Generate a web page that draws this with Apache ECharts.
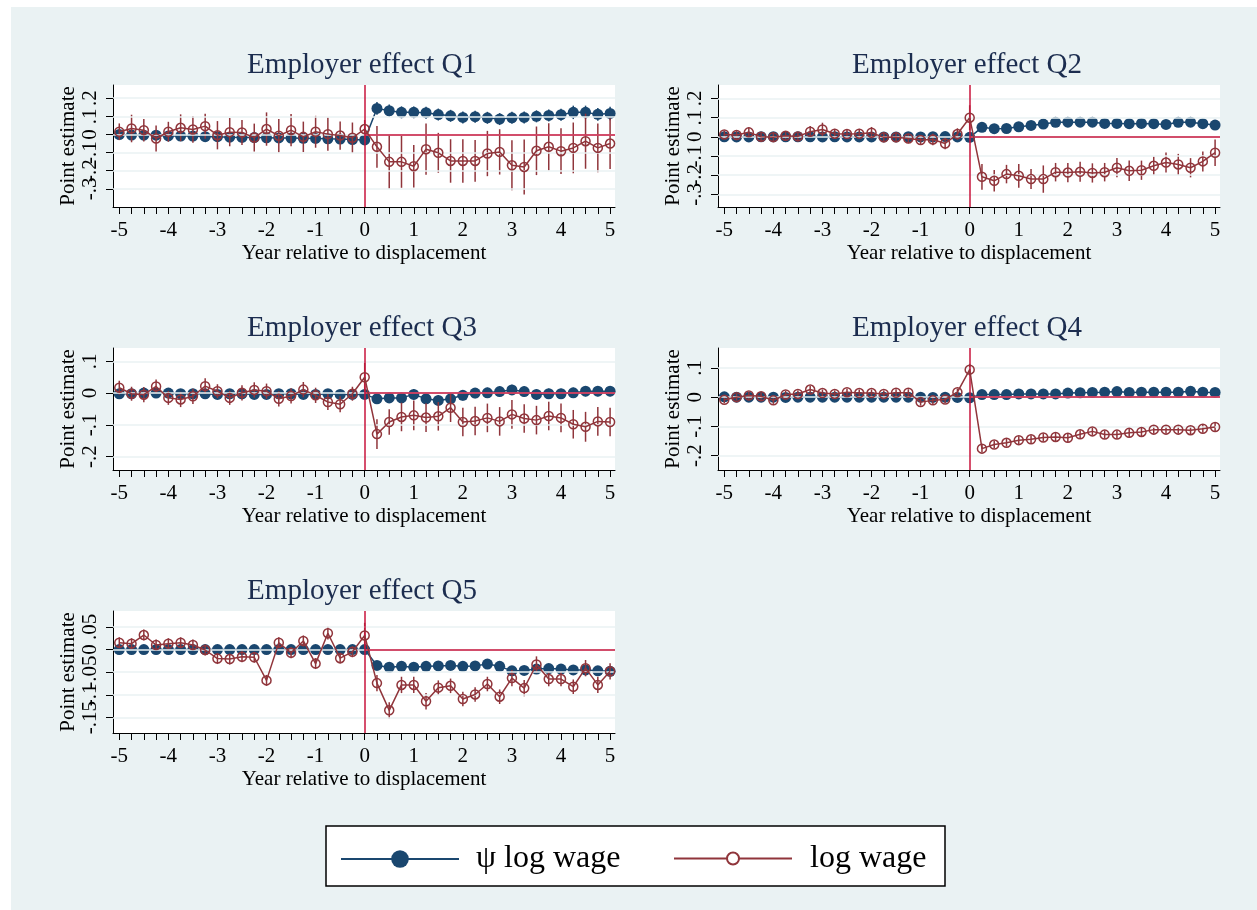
<!DOCTYPE html>
<html>
<head>
<meta charset="utf-8">
<script src="https://cdn.jsdelivr.net/npm/echarts@6/dist/echarts.min.js"></script>
<style>
html,body{margin:0;padding:0;background:#fff}
#chart{width:1257px;height:910px}
</style>
</head>
<body>
<div id="chart"></div>
<script>
// event time, quarters relative to displacement
var years = [-5,-4.75,-4.5,-4.25,-4,-3.75,-3.5,-3.25,-3,-2.75,-2.5,-2.25,-2,-1.75,-1.5,-1.25,-1,-0.75,-0.5,-0.25,0,
             0.25,0.5,0.75,1,1.25,1.5,1.75,2,2.25,2.5,2.75,3,3.25,3.5,3.75,4,4.25,4.5,4.75,5];
var yearLabels = [-5,-4,-3,-2,-1,0,1,2,3,4,5];

var psiQ1 = [0,-0.003,-0.004,-0.004,-0.008,-0.009,-0.009,-0.012,-0.012,-0.015,-0.016,-0.017,-0.018,-0.019,-0.02,-0.021,-0.022,-0.024,-0.025,-0.028,-0.03,
             0.144,0.131,0.122,0.122,0.12,0.11,0.103,0.094,0.098,0.092,0.085,0.092,0.094,0.1,0.105,0.109,0.122,0.122,0.111,0.116];
var psiCiQ1 = [0.02,0.02,0.02,0.02,0.02,0.02,0.02,0.02,0.02,0.02,0.02,0.02,0.02,0.02,0.02,0.02,0.02,0.02,0.02,0.02,0.02,
               0.035,0.035,0.033,0.033,0.033,0.033,0.033,0.033,0.033,0.033,0.033,0.033,0.033,0.033,0.033,0.033,0.037,0.037,0.035,0.037];
var wageQ1 = [0.015,0.033,0.024,-0.022,0.015,0.037,0.028,0.046,-0.004,0.013,0.011,-0.017,0.03,-0.007,0.024,-0.013,0.015,0.002,-0.006,-0.018,0.03,
              -0.068,-0.151,-0.151,-0.175,-0.081,-0.101,-0.146,-0.146,-0.146,-0.105,-0.096,-0.17,-0.179,-0.09,-0.068,-0.092,-0.074,-0.037,-0.074,-0.05];
var wageCiQ1 = [0.046,0.076,0.062,0.072,0.055,0.074,0.074,0.069,0.078,0.078,0.069,0.077,0.092,0.092,0.089,0.084,0.088,0.092,0.078,0.084,0.05,
                0.115,0.148,0.143,0.117,0.141,0.11,0.12,0.12,0.115,0.125,0.125,0.138,0.152,0.134,0.13,0.126,0.14,0.152,0.134,0.14];

var psiQ2 = [0,-0.001,-0.001,0,0,0,0,0,-0.001,0,-0.001,-0.001,-0.001,-0.001,-0.001,0,-0.001,0,0.001,-0.001,-0.003,
             0.049,0.042,0.043,0.052,0.059,0.066,0.075,0.076,0.076,0.076,0.069,0.069,0.068,0.069,0.068,0.064,0.075,0.076,0.068,0.061];
var psiCiQ2 = [0.008,0.008,0.008,0.008,0.008,0.008,0.008,0.008,0.008,0.008,0.008,0.008,0.008,0.008,0.008,0.008,0.008,0.008,0.008,0.008,0.008,
               0.01,0.01,0.01,0.01,0.01,0.01,0.01,0.01,0.01,0.01,0.01,0.01,0.01,0.01,0.01,0.01,0.01,0.01,0.01,0.01];
var wageQ2 = [0.012,0.009,0.023,0,-0.002,0.005,0.002,0.026,0.038,0.016,0.014,0.016,0.021,-0.003,-0.003,-0.009,-0.017,-0.014,-0.035,0.014,0.099,
              -0.208,-0.229,-0.194,-0.203,-0.22,-0.22,-0.184,-0.186,-0.182,-0.188,-0.184,-0.161,-0.177,-0.174,-0.151,-0.134,-0.144,-0.161,-0.128,-0.083];
var wageCiQ2 = [0.02,0.02,0.025,0.025,0.025,0.02,0.02,0.03,0.035,0.025,0.025,0.025,0.03,0.025,0.025,0.025,0.025,0.03,0.03,0.03,0.065,
                0.067,0.056,0.048,0.062,0.052,0.071,0.048,0.05,0.052,0.05,0.048,0.05,0.053,0.05,0.048,0.052,0.055,0.05,0.052,0.069];

var psiQ3 = [-0.002,-0.002,0,0,0,-0.002,-0.002,-0.002,-0.004,-0.002,-0.002,-0.004,-0.004,-0.002,-0.002,-0.004,-0.004,-0.002,-0.004,-0.004,-0.004,
             -0.018,-0.015,-0.015,-0.004,-0.018,-0.023,-0.018,-0.007,0,0.001,0.005,0.01,0.005,-0.004,-0.002,-0.002,0.001,0.006,0.006,0.006];
var psiCiQ3 = [0.012,0.012,0.012,0.012,0.012,0.012,0.012,0.012,0.012,0.012,0.012,0.012,0.012,0.012,0.012,0.012,0.012,0.012,0.012,0.012,0.012,
               0.016,0.016,0.016,0.016,0.016,0.016,0.016,0.016,0.016,0.016,0.016,0.016,0.016,0.016,0.016,0.016,0.016,0.016,0.016,0.016];
var wageQ3 = [0.017,-0.002,-0.005,0.021,-0.015,-0.02,-0.01,0.022,0.006,-0.015,0.001,0.01,0.006,-0.018,-0.009,0.011,-0.007,-0.028,-0.035,-0.002,0.05,
              -0.129,-0.091,-0.075,-0.07,-0.077,-0.073,-0.046,-0.091,-0.088,-0.078,-0.089,-0.067,-0.08,-0.085,-0.072,-0.078,-0.098,-0.106,-0.089,-0.091];
var wageCiQ3 = [0.022,0.022,0.024,0.022,0.022,0.024,0.024,0.025,0.022,0.022,0.024,0.024,0.024,0.024,0.024,0.024,0.024,0.025,0.025,0.022,0.045,
                0.047,0.04,0.045,0.047,0.045,0.045,0.045,0.045,0.045,0.045,0.045,0.045,0.045,0.045,0.045,0.045,0.045,0.047,0.045,0.045];

var psiQ4 = [0.001,0,0,0,0,-0.001,0,0,0,0,0,0,0,0,0,0,0,-0.001,0,-0.001,-0.002,
             0.009,0.009,0.009,0.011,0.011,0.011,0.011,0.014,0.015,0.016,0.017,0.019,0.016,0.017,0.017,0.017,0.017,0.02,0.017,0.016];
var psiCiQ4 = [0.004,0.004,0.004,0.004,0.004,0.004,0.004,0.004,0.004,0.004,0.004,0.004,0.004,0.004,0.004,0.004,0.004,0.004,0.004,0.004,0.004,
               0.005,0.005,0.005,0.005,0.005,0.005,0.005,0.005,0.005,0.005,0.005,0.005,0.005,0.005,0.005,0.005,0.005,0.005,0.005,0.005];
var wageQ4 = [-0.009,0,0.006,0.003,-0.011,0.009,0.011,0.026,0.014,0.011,0.017,0.014,0.014,0.011,0.015,0.015,-0.017,-0.011,-0.008,0.017,0.094,
              -0.176,-0.162,-0.156,-0.147,-0.144,-0.138,-0.136,-0.139,-0.127,-0.117,-0.128,-0.128,-0.122,-0.119,-0.111,-0.111,-0.111,-0.113,-0.108,-0.102];
var wageCiQ4 = [0.012,0.012,0.012,0.012,0.012,0.012,0.012,0.012,0.012,0.012,0.012,0.012,0.012,0.012,0.012,0.012,0.012,0.012,0.012,0.012,0.02,
                0.013,0.013,0.013,0.013,0.014,0.014,0.014,0.014,0.014,0.014,0.014,0.014,0.014,0.014,0.014,0.014,0.014,0.014,0.014,0.015];

var psiQ5 = [0,0,0,0,0,0,0,0,0,0,0,0,0,0,0,0,0,0,0,0,0,
             -0.035,-0.039,-0.037,-0.039,-0.037,-0.036,-0.035,-0.037,-0.036,-0.032,-0.037,-0.047,-0.046,-0.043,-0.042,-0.043,-0.045,-0.045,-0.047,-0.048];
var psiCiQ5 = [0.003,0.003,0.003,0.003,0.003,0.003,0.003,0.003,0.003,0.003,0.003,0.003,0.003,0.003,0.003,0.003,0.003,0.003,0.003,0.003,0.003,
               0.004,0.004,0.004,0.004,0.004,0.004,0.004,0.004,0.004,0.004,0.004,0.004,0.004,0.004,0.004,0.004,0.004,0.004,0.004,0.004];
var wageQ5 = [0.015,0.013,0.032,0.01,0.013,0.015,0.01,-0.001,-0.02,-0.021,-0.016,-0.017,-0.068,0.015,-0.007,0.019,-0.031,0.036,-0.019,-0.005,0.031,
              -0.074,-0.134,-0.078,-0.078,-0.114,-0.084,-0.08,-0.109,-0.099,-0.076,-0.104,-0.063,-0.085,-0.033,-0.065,-0.065,-0.082,-0.041,-0.078,-0.048];
var wageCiQ5 = [0.012,0.012,0.012,0.012,0.012,0.012,0.012,0.012,0.012,0.012,0.012,0.012,0.012,0.012,0.012,0.012,0.012,0.014,0.012,0.012,0.028,
                0.018,0.018,0.018,0.018,0.018,0.016,0.016,0.016,0.016,0.016,0.016,0.018,0.018,0.018,0.016,0.016,0.016,0.018,0.018,0.018];

var yTicksQ1 = [-0.3,-0.2,-0.1,0,0.1,0.2];
var yTicksQ2 = [-0.3,-0.2,-0.1,0,0.1,0.2];
var yTicksQ3 = [-0.2,-0.1,0,0.1];
var yTicksQ4 = [-0.2,-0.1,0,0.1];
var yTicksQ5 = [-0.15,-0.1,-0.05,0,0.05];

var panels = [
  {title:'Employer effect Q1', psi:psiQ1, psiCi:psiCiQ1, wage:wageQ1, wageCi:wageCiQ1, ticks:yTicksQ1, min:-0.4, max:0.273},
  {title:'Employer effect Q2', psi:psiQ2, psiCi:psiCiQ2, wage:wageQ2, wageCi:wageCiQ2, ticks:yTicksQ2, min:-0.365, max:0.269},
  {title:'Employer effect Q3', psi:psiQ3, psiCi:psiCiQ3, wage:wageQ3, wageCi:wageCiQ3, ticks:yTicksQ3, min:-0.242, max:0.142},
  {title:'Employer effect Q4', psi:psiQ4, psiCi:psiCiQ4, wage:wageQ4, wageCi:wageCiQ4, ticks:yTicksQ4, min:-0.249, max:0.168},
  {title:'Employer effect Q5', psi:psiQ5, psiCi:psiCiQ5, wage:wageQ5, wageCi:wageCiQ5, ticks:yTicksQ5, min:-0.184, max:0.085}
];

var chart = echarts.init(document.getElementById('chart'));
var serif = 'Liberation Serif';
var blue = '#1a476f', red = '#90353b', refRed = '#c8143c', bg = '#eaf2f3';
var lefts = [113, 718, 113, 718, 113];
var tops = [85, 85, 348, 348, 611];
var xMin = -5.128, xMax = 5.1;
var n = panels.length;

// stata style numbers: .1, -.05, 0
function stataNum(v) {
  if (Math.abs(v) < 1e-9) return '0';
  return String(+v.toFixed(3)).replace('0.', '.');
}
function ciData(vals, ci) {
  return years.map(function (x, i) { return [x, vals[i] - ci[i], vals[i] + ci[i]]; });
}
function ciRender(params, api) {
  var a = api.coord([api.value(0), api.value(1)]);
  var b = api.coord([api.value(0), api.value(2)]);
  return {type: 'line', shape: {x1: a[0], y1: a[1], x2: b[0], y2: b[1]},
          style: {stroke: api.visual('color'), lineWidth: 1.5}};
}
var labelStyle = {fontFamily: serif, fontSize: 21, color: '#000'};

var grids = [], xAxes = [], yAxes = [], titles = [], series = [];
panels.forEach(function (p, k) {
  grids.push({left: lefts[k], top: tops[k], width: 502, height: 122,
              show: true, backgroundColor: '#fff', borderWidth: 0});
  xAxes.push({
    gridIndex: k, type: 'value', min: xMin, max: xMax,
    axisLine: {show: true, onZero: false, lineStyle: {color: '#000', width: 1}},
    axisTick: {show: true, customValues: years, length: 7, lineStyle: {color: '#000', width: 1}},
    axisLabel: Object.assign({customValues: yearLabels, formatter: function (v) { return String(v); },
                showMinLabel: true, showMaxLabel: true, margin: 13}, labelStyle),
    splitLine: {show: false},
    name: 'Year relative to displacement', nameLocation: 'middle', nameGap: 36,
    nameTextStyle: labelStyle
  });
  // y labels crowd each other, so alternate ones go on an overlay axis
  yAxes.push({
    gridIndex: k, type: 'value', min: p.min, max: p.max,
    axisLine: {show: true, onZero: false, lineStyle: {color: '#000', width: 1}},
    axisTick: {show: true, customValues: p.ticks, length: 7, lineStyle: {color: '#000', width: 1}},
    axisLabel: Object.assign({customValues: p.ticks.filter(function (v, i) { return i % 2 === 0; }),
                formatter: stataNum, rotate: 90, margin: 12, showMinLabel: true, showMaxLabel: true}, labelStyle),
    splitLine: {show: false},
    name: 'Point estimate', nameLocation: 'middle', nameRotate: 90, nameGap: 34,
    nameTextStyle: labelStyle
  });
  titles.push({text: p.title, left: lefts[k] + 249, top: tops[k] - 34, textAlign: 'center', padding: 0,
               textStyle: {fontFamily: serif, fontSize: 29, fontWeight: 'normal', color: '#1c2d4f'}});

  var marks = p.ticks.map(function (v) {
    return {yAxis: v, lineStyle: {color: bg, width: 1.5, type: 'solid'}};
  });
  marks.push({xAxis: 0, lineStyle: {color: refRed, width: 1.5, type: 'solid'}});
  marks.push([{coord: [0, 0], lineStyle: {color: refRed, width: 1.5, type: 'solid'}}, {coord: [xMax, 0]}]);
  series.push({type: 'line', xAxisIndex: k, yAxisIndex: k, data: [], z: 1, silent: true,
    markLine: {silent: true, symbol: ['none', 'none'], label: {show: false}, animation: false, data: marks}});

  series.push({type: 'custom', name: 'psi ci', xAxisIndex: k, yAxisIndex: k, z: 2, silent: true,
    itemStyle: {color: blue}, renderItem: ciRender, encode: {x: 0, y: [1, 2]},
    data: ciData(p.psi, p.psiCi)});
  series.push({type: 'line', name: 'ψ log wage', xAxisIndex: k, yAxisIndex: k, z: 3,
    data: years.map(function (x, i) { return [x, p.psi[i]]; }),
    symbol: 'circle', symbolSize: 11, itemStyle: {color: blue},
    lineStyle: {color: blue, width: 1.5}});
  series.push({type: 'custom', name: 'wage ci', xAxisIndex: k, yAxisIndex: k, z: 4, silent: true,
    itemStyle: {color: red}, renderItem: ciRender, encode: {x: 0, y: [1, 2]},
    data: ciData(p.wage, p.wageCi)});
  series.push({type: 'line', name: 'log wage', xAxisIndex: k, yAxisIndex: k, z: 5,
    data: years.map(function (x, i) { return [x, p.wage[i]]; }),
    symbol: 'circle', symbolSize: 9,
    itemStyle: {color: 'rgba(255,255,255,0)', borderColor: red, borderWidth: 1.5},
    lineStyle: {color: red, width: 1.5}});
});

// overlay grids carrying the other half of the y labels
panels.forEach(function (p, k) {
  grids.push({left: lefts[k], top: tops[k], width: 502, height: 122, show: false});
  xAxes.push({gridIndex: n + k, type: 'value', min: xMin, max: xMax, show: false});
  yAxes.push({
    gridIndex: n + k, type: 'value', min: p.min, max: p.max,
    axisLine: {show: false}, axisTick: {show: false}, splitLine: {show: false},
    axisLabel: Object.assign({customValues: p.ticks.filter(function (v, i) { return i % 2 === 1; }),
                formatter: stataNum, rotate: 90, margin: 12, showMinLabel: true, showMaxLabel: true}, labelStyle)
  });
});

var option = {
  animation: false,
  textStyle: {fontFamily: serif},
  title: titles,
  grid: grids,
  xAxis: xAxes,
  yAxis: yAxes,
  legend: [
    {data: ['ψ log wage'], left: 340, top: 843, padding: 0, itemWidth: 118, itemHeight: 22,
     lineStyle: {width: 2}, selectedMode: false,
     textStyle: {fontFamily: serif, fontSize: 32, color: '#000', padding: [0, 0, 0, 12]}},
    {data: [{name: 'log wage', itemStyle: {color: '#fff', borderColor: red, borderWidth: 2}}],
     left: 673, top: 842.5, padding: 0, itemWidth: 118, itemHeight: 15,
     lineStyle: {width: 2}, selectedMode: false,
     textStyle: {fontFamily: serif, fontSize: 32, color: '#000', padding: [0, 0, 0, 13]}}
  ],
  graphic: [
    {type: 'rect', z: -10, silent: true, shape: {x: 11, y: 7, width: 1246, height: 903}, style: {fill: bg}},
    {type: 'rect', z: 1, silent: true, shape: {x: 326, y: 826, width: 619, height: 60},
     style: {fill: '#fff', stroke: '#000', lineWidth: 1.5}}
  ],
  series: series
};
chart.setOption(option);
</script>
</body>
</html>
